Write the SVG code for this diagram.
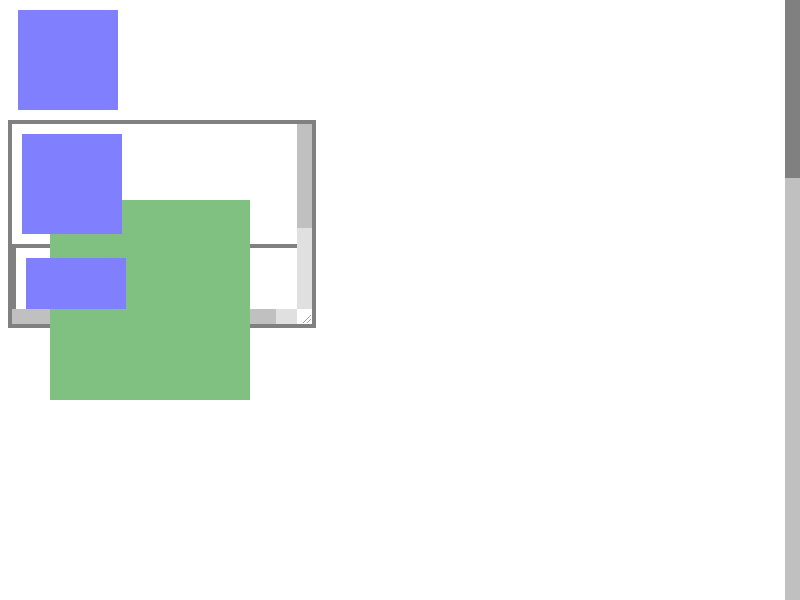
<svg xmlns="http://www.w3.org/2000/svg" width="800" height="600" viewBox="0 0 800 600">
<style>
.blue{fill:#8080ff}
.green{fill:#80c080}
.border{fill:#808080}
.track{fill:#c0c0c0}
.light{fill:#e0e0e0}
</style>
<rect width="800" height="600" fill="#ffffff"/>
<g id="page-scrollbar">
<rect x="785" y="0" width="15" height="600" class="track"/>
<rect x="785" y="0" width="15" height="178" class="border"/>
</g>
<g id="box1"><rect x="18" y="10" width="100" height="100" class="blue"/></g>
<g id="scroller">
<rect x="8" y="120" width="308" height="208" class="border"/>
<rect x="12" y="124" width="300" height="200" fill="#ffffff"/>
<rect x="12" y="244" width="285" height="4" class="border"/>
<rect x="12" y="248" width="4" height="61" class="border"/>
<rect x="297" y="124" width="15" height="185" class="light"/>
<rect x="297" y="124" width="15" height="104" class="track"/>
<rect x="12" y="309" width="285" height="15" class="light"/>
<rect x="12" y="309" width="264" height="15" class="track"/>
<rect x="297" y="309" width="15" height="15" fill="#ffffff"/>
<g stroke="#a0a0a0" stroke-width="1">
<line x1="303" y1="323" x2="311" y2="315"/>
<line x1="307" y1="323" x2="311" y2="319"/>
</g>
</g>
<g id="green"><rect x="50" y="200" width="200" height="200" class="green"/></g>
<g id="box2"><rect x="22" y="134" width="100" height="100" class="blue"/></g>
<g id="box3"><rect x="26" y="258" width="100" height="51" class="blue"/></g>
</svg>
